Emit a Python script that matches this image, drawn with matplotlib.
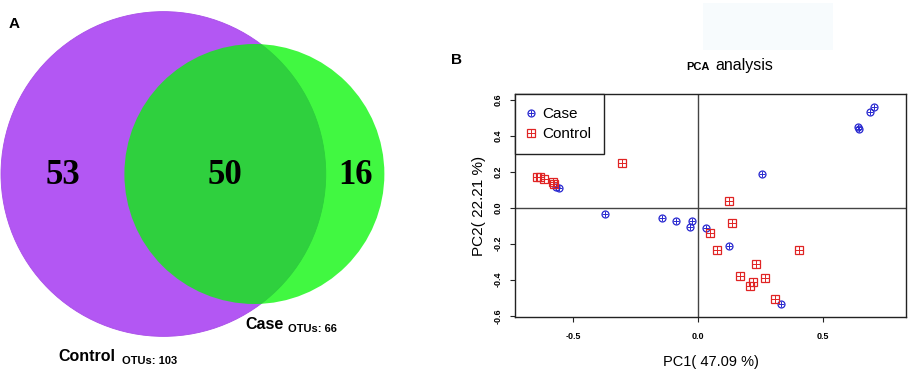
import numpy as np
import matplotlib.pyplot as plt
from matplotlib.patches import Circle, Rectangle
from matplotlib.legend_handler import HandlerTuple

plt.rcParams['font.family'] = ['Liberation Sans', 'DejaVu Sans']

# --- DATOS ---
venn_grupos = ["Control", "Case"]
venn_totales = [103, 66]          # OTUs por grupo
venn_regiones = [53, 50, 16]      # solo Control, compartidos, solo Case

case_pc1 = [0.707, 0.690, 0.640, 0.647, 0.255, -0.570, -0.557, -0.372, -0.143,
            -0.087, -0.025, -0.031, 0.032, 0.124, 0.332]
case_pc2 = [0.558, 0.530, 0.448, 0.437, 0.190, 0.117, 0.108, -0.033, -0.058,
            -0.076, -0.074, -0.106, -0.111, -0.213, -0.536]

control_pc1 = [-0.303, -0.644, -0.633, -0.616, -0.583, -0.577, 0.125, 0.137,
               0.048, 0.076, 0.405, 0.232, 0.167, 0.269, 0.219, 0.208, 0.310]
control_pc2 = [0.249, 0.173, 0.173, 0.162, 0.144, 0.132, 0.038, -0.086,
               -0.138, -0.237, -0.237, -0.313, -0.380, -0.393, -0.411, -0.433, -0.506]

var_pc1 = 47.09
var_pc2 = 22.21

W, H = 909, 376
fig = plt.figure(figsize=(W / 100, H / 100), dpi=100)

# --- PANEL A: VENN ---
axv = fig.add_axes([0, 0, 460 / W, 1])
axv.set_xlim(0, 460)
axv.set_ylim(H, 0)
axv.axis('off')

k = 16.0  # radio proporcional a la raiz del numero de OTUs
r_ctrl = k * np.sqrt(venn_totales[0])
r_case = k * np.sqrt(venn_totales[1])
cy = 174
cx_ctrl = 1 + r_ctrl
cx_case = cx_ctrl + 91

axv.add_patch(Circle((cx_ctrl, cy), r_ctrl, facecolor='#b357f3', edgecolor='#a94ee8', lw=0.6))
axv.add_patch(Circle((cx_case, cy), r_case, facecolor=(0.02, 0.97, 0.02), alpha=0.76,
                     edgecolor='none'))

x_53 = ((cx_ctrl - r_ctrl) + (cx_case - r_case)) / 2
x_50 = ((cx_case - r_case) + (cx_ctrl + r_ctrl)) / 2
x_16 = ((cx_ctrl + r_ctrl) + (cx_case + r_case)) / 2
for xx, n in zip([x_53, x_50, x_16], venn_regiones):
    axv.text(xx, cy + 1, str(n), ha='center', va='center', fontsize=25,
             fontweight='bold', family='Liberation Serif')

axv.text(245, 329, venn_grupos[1], ha='left', va='baseline', fontsize=11.5, fontweight='bold')
axv.text(288.5, 332.5, f"OTUs: {venn_totales[1]}", ha='left', va='baseline', fontsize=8, fontweight='bold')
axv.text(58, 361, venn_grupos[0], ha='left', va='baseline', fontsize=11.5, fontweight='bold')
axv.text(121.5, 364, f"OTUs: {venn_totales[0]}", ha='left', va='baseline', fontsize=8, fontweight='bold')

fig.text(9 / W, 1 - 28 / H, "A", fontsize=11, fontweight='bold', ha='left', va='baseline')
fig.text(451 / W, 1 - 64 / H, "B", fontsize=11, fontweight='bold', ha='left', va='baseline')

# rectangulo tenue de fondo (artefacto de la imagen)
fig.patches.append(Rectangle((703 / W, 1 - 50 / H), 130 / W, 47 / H, transform=fig.transFigure,
                             facecolor='#f7fbfd', edgecolor='none', zorder=0))

# --- PANEL B: PCA ---
ax = fig.add_axes([515 / W, (H - 317) / H, 391 / W, 223 / H])
ax.set_xlim(-0.734, 0.834)
ax.set_ylim(-0.607, 0.632)
ax.axvline(0, color='#444444', lw=1, zorder=1)
ax.axhline(0, color='#444444', lw=1, zorder=1)

azul = '#2828d0'
rojo = '#e02424'
c1, = ax.plot(case_pc1, case_pc2, 'o', ms=5, mfc='none', mec=azul, mew=0.9, zorder=3)
c2, = ax.plot(case_pc1, case_pc2, '+', ms=5, mec=azul, mew=0.7, zorder=3)
s1, = ax.plot(control_pc1, control_pc2, 's', ms=5.3, mfc='none', mec=rojo, mew=0.9, zorder=3)
s2, = ax.plot(control_pc1, control_pc2, '+', ms=5.3, mec=rojo, mew=0.7, zorder=3)

leg = ax.legend([(c1, c2), (s1, s2)], ["Case", "Control"], loc='upper left',
                bbox_to_anchor=(0, 1), borderaxespad=0, fancybox=False, framealpha=1,
                edgecolor='#222222', fontsize=11, handlelength=0.4, handletextpad=0.55,
                labelspacing=0.4, borderpad=0.85,
                handler_map={tuple: HandlerTuple(ndivide=1)})
leg.get_frame().set_linewidth(1.0)

ax.set_xticks([-0.5, 0.0, 0.5])
ax.set_xticklabels(['-0.5', '0.0', '0.5'], fontsize=6.5, fontweight='bold')
yt = [-0.6, -0.4, -0.2, 0.0, 0.2, 0.4, 0.6]
ax.set_yticks(yt)
ax.set_yticklabels([f"{v:.1f}" for v in yt], fontsize=6.5, fontweight='bold',
                   rotation=90, va='center')
ax.tick_params(direction='out', length=3.6, width=0.8, color='#222222')
ax.tick_params(axis='x', pad=7)
ax.tick_params(axis='y', pad=5)
for s in ax.spines.values():
    s.set_color('#222222')
    s.set_linewidth(1.0)

ax.set_xlabel(f"PC1( {var_pc1} %)", fontsize=10.5, labelpad=10)
ax.set_ylabel(f"PC2( {var_pc2} %)", fontsize=11, labelpad=6)

fig.text(710 / W, 1 - 70 / H, "PCA", fontsize=8, fontweight='bold', ha='right', va='baseline')
fig.text(715 / W, 1 - 70 / H, "analysis", fontsize=11.5, ha='left', va='baseline')

fig.savefig('out.png', dpi=100)
